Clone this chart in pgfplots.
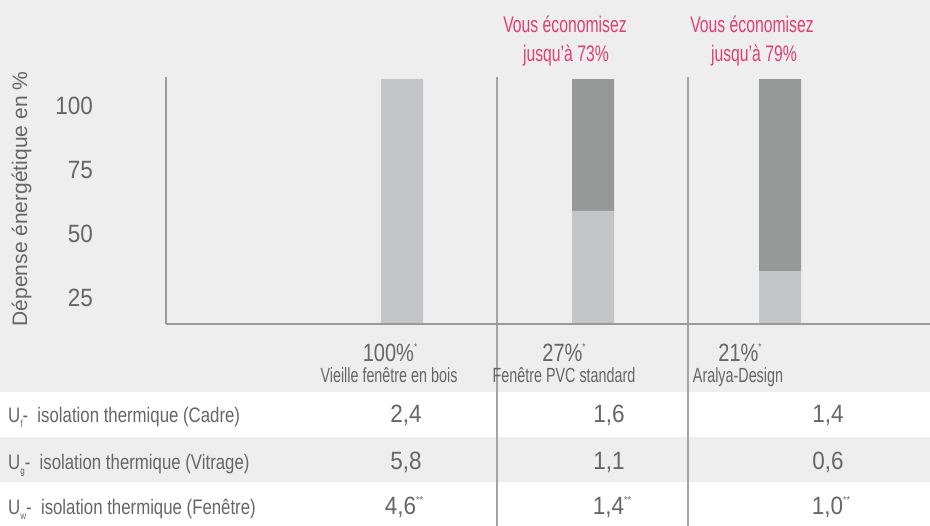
\documentclass[border=0pt]{standalone}
\usepackage{pgfplots}
\pgfplotsset{compat=1.18}
\usepackage{fontspec}
\setmainfont{Liberation Sans}
\newfontfamily\numfont[FakeStretch=0.9]{Liberation Sans}
\newfontfamily\midfont[FakeStretch=0.8]{Liberation Sans}
\newfontfamily\cfont[FakeStretch=0.7]{Liberation Sans}
\definecolor{bggray}{HTML}{EEEEEE}
\definecolor{barlight}{HTML}{C4C5C6}
\definecolor{bardark}{HTML}{979998}
\definecolor{axisgray}{HTML}{9A9A9A}
\definecolor{sepgray}{HTML}{A4A4A4}
\definecolor{textgray}{HTML}{666666}
\definecolor{pink}{RGB}{222,64,114}
\newcommand{\sub}[1]{\raisebox{-4.5pt}{\fontsize{10}{10}\selectfont #1}}
\newcommand{\sups}[1]{\raisebox{11pt}{\fontsize{10}{10}\selectfont #1}}
\begin{document}
\begin{tikzpicture}[x=1pt,y=1pt]
\useasboundingbox (0,0) rectangle (930,526);
% backgrounds
\fill[white] (0,0) rectangle (930,526);
\fill[bggray] (0,134) rectangle (930,526);
\fill[bggray] (0,44) rectangle (930,89);
% separators
\draw[sepgray, line width=1.1pt] (497,0) -- (497,449);
\draw[sepgray, line width=1.1pt] (688,0) -- (688,449);
\coordinate (AX) at (166pt,202pt);
\begin{axis}[
  at={(AX)}, anchor=south west,
  scale only axis, width=764pt, height=247pt,
  xmin=166, xmax=930, ymin=14.84, ymax=111.3,
  axis x line*=bottom, axis y line*=left,
  axis line style={draw=axisgray, line width=1.6pt, -},
  xtick=\empty, ytick={25,50,75,100},
  major tick length=0pt,
  /pgf/number format/assume math mode=true,
  yticklabel style={anchor=east, inner sep=0pt, xshift=-73pt,
    font=\numfont\fontsize{25}{25}\selectfont, text=textgray},
  ybar stacked, bar width=42,
  axis on top,
]
\addplot[fill=barlight, draw=none] coordinates {(402,110.5) (593,59) (780,35.5)};
\addplot[fill=bardark, draw=none] coordinates {(402,0) (593,51.5) (780,75)};
\end{axis}
% y label
\node[rotate=90, anchor=base, text=textgray, font=\fontsize{21}{21}\selectfont, inner sep=0pt] at (27,327) {Dépense énergétique en \%};
% pink notes
\begin{scope}[every node/.style={anchor=base, inner sep=0pt, text=pink, font=\cfont\fontsize{22.5}{22.5}\selectfont}]
\node at (565,493) {Vous économisez};
\node at (566,464) {jusqu’à 73\%};
\node at (752,493) {Vous économisez};
\node at (754,464) {jusqu’à 79\%};
\end{scope}
% column labels
\begin{scope}[every node/.style={anchor=base, inner sep=0pt, text=textgray}]
\node[font=\midfont\fontsize{25}{25}\selectfont] at (390,164) {100\%\sups{*}};
\node[font=\midfont\fontsize{25}{25}\selectfont] at (564,164) {27\%\sups{*}};
\node[font=\midfont\fontsize{25}{25}\selectfont] at (740,164) {21\%\sups{*}};
\node[font=\cfont\fontsize{20.5}{20.5}\selectfont] at (389,143) {Vieille fenêtre en bois};
\node[font=\cfont\fontsize{20.5}{20.5}\selectfont] at (564,143) {Fenêtre PVC standard};
\node[font=\cfont\fontsize{20.5}{20.5}\selectfont] at (738,143) {Aralya-Design};
\end{scope}
% row labels
\begin{scope}[every node/.style={anchor=base west, inner sep=0pt, text=textgray, font=\midfont\fontsize{21}{21}\selectfont}]
\node at (8,103) {U\sub{f}-~ isolation thermique (Cadre)};
\node at (8,56) {U\sub{g}-~ isolation thermique (Vitrage)};
\node at (8,11) {U\sub{w}-~ isolation thermique (Fenêtre)};
\end{scope}
% values
\begin{scope}[every node/.style={anchor=base, inner sep=0pt, text=textgray, font=\numfont\fontsize{25}{25}\selectfont}]
\node at (406,103) {2,4};
\node at (406,56) {5,8};
\node at (404,11) {4,6\sups{**}};
\node at (609,103) {1,6};
\node at (609,56) {1,1};
\node at (612,11) {1,4\sups{**}};
\node at (828,103) {1,4};
\node at (828,56) {0,6};
\node at (831,11) {1,0\sups{**}};
\end{scope}
\end{tikzpicture}
\end{document}
